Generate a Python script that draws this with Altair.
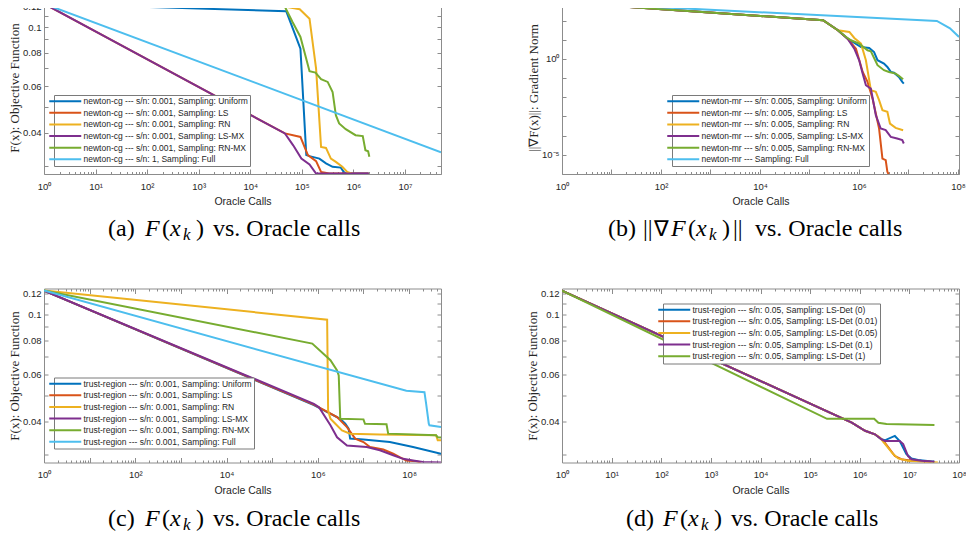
import altair as alt
import pandas as pd

BLUE, RED, YELLOW, PURPLE, GREEN, CYAN = "#0072BD", "#D95319", "#EDB120", "#7E2F8E", "#77AC30", "#4DBEEE"
SANS, SERIF = "Liberation Sans", "Liberation Serif"
TXT, FRAME = "#262626", "#8c8c8c"

# ---------------- panel (a): newton-cg, F(x) ----------------
a_labels = [
    "newton-cg --- s/n: 0.001, Sampling: Uniform",
    "newton-cg --- s/n: 0.001, Sampling: LS",
    "newton-cg --- s/n: 0.001, Sampling: RN",
    "newton-cg --- s/n: 0.001, Sampling: LS-MX",
    "newton-cg --- s/n: 0.001, Sampling: RN-MX",
    "newton-cg --- s/n: 1, Sampling: Full",
]
a_uni_x = [1, 5.0e4, 9.4e4, 1.22e5, 1.41e5, 2.19e5, 2.94e5, 3.95e5, 5.7e5, 6.6e5, 7.6e5, 1.98e6]
a_uni_y = [0.1225, 0.1147, 0.0830, 0.0330, 0.0327, 0.0320, 0.0307, 0.0298, 0.0296, 0.0284, 0.0281, 0.0281]
a_ls_x = [1, 4.7e4, 9.4e4, 1.31e5, 1.89e5, 2.36e5, 3.4e5, 1.98e6]
a_ls_y = [0.1225, 0.0398, 0.0386, 0.0330, 0.0313, 0.0285, 0.0281, 0.0281]
a_rn_x = [1, 4.9e4, 9.1e4, 1.41e5, 1.89e5, 2.36e5, 2.94e5, 3.66e5, 4.57e5, 6.1e5, 7.6e5, 9.5e5]
a_rn_y = [0.1225, 0.1193, 0.1167, 0.1076, 0.0698, 0.0354, 0.0351, 0.0320, 0.0311, 0.0298, 0.0285, 0.0281]
a_lsmx_x = [1, 4.7e4, 6.8e4, 9.8e4, 1.41e5, 1.89e5, 1.98e6]
a_lsmx_y = [0.1225, 0.0398, 0.0359, 0.0320, 0.0304, 0.0281, 0.0281]
a_rnmx_x = [1, 4.69e4, 6.6e4, 9.4e4, 1.41e5, 1.84e5, 2.36e5, 3.17e5, 3.95e5, 4.57e5, 5.29e5,
            7.1e5, 1.10e6, 1.52e6, 1.71e6, 1.93e6, 2.04e6]
a_rnmx_y = [0.1225, 0.1193, 0.1045, 0.0918, 0.0682, 0.0674, 0.0637, 0.0622, 0.0570, 0.0466, 0.0434,
            0.0413, 0.0392, 0.0389, 0.0344, 0.0341, 0.0325]
a_full_x = [1, 5e7]
a_full_y = [0.1225, 0.0338]

# ---------------- panel (b): newton-mr, gradient norm ----------------
b_labels = [
    "newton-mr --- s/n: 0.005, Sampling: Uniform",
    "newton-mr --- s/n: 0.005, Sampling: LS",
    "newton-mr --- s/n: 0.005, Sampling: RN",
    "newton-mr --- s/n: 0.005, Sampling: LS-MX",
    "newton-mr --- s/n: 0.005, Sampling: RN-MX",
    "newton-mr --- Sampling: Full",
]
b_uni_x = [1, 1.88e5, 3.75e5, 5.9e5, 1.1e6, 1.61e6, 2.02e6, 2.37e6, 3.2e6, 3.75e6, 4.4e6, 5.1e6, 6.4e6, 7.5e6, 8.05e6]
b_uni_y = [890, 104, 31.3, 11.4, 4.2, 3.74, 2.3, 0.855, 0.569, 0.383, 0.21, 0.193, 0.115, 0.0634, 0.0517]
b_ls_x = [1, 1.88e5, 3.75e5, 5.9e5, 8.7e5, 1.19e6, 1.49e6, 1.88e6, 2.19e6, 2.55e6, 2.98e6, 3.47e6, 3.75e6, 4.04e6]
b_ls_y = [890, 104, 31.3, 11.4, 3.44, 0.21, 0.0634, 8.55e-3, 1.42e-3, 2.34e-4, 6.4e-6, 5.3e-6, 1.3e-6, 8.8e-7]
b_rn_x = [1, 1.88e5, 3.75e5, 6.4e5, 8.05e5, 1.1e6, 1.38e6, 1.61e6, 1.74e6, 2.19e6, 2.55e6, 2.98e6, 3.75e6,
          4.23e6, 5.5e6, 7.8e6]
b_rn_y = [890, 104, 31.3, 25.5, 12.4, 6.3, 0.855, 0.0778, 0.0234, 0.0191, 7.06e-3, 2.13e-3, 1.74e-3,
          4.27e-4, 2.55e-4, 1.93e-4]
b_lsmx_x = [1, 1.88e5, 3.75e5, 5.9e5, 8.05e5, 1.01e6, 1.19e6, 1.38e6, 1.74e6, 2.19e6, 2.75e6, 3.47e6,
            4.4e6, 5.9e6, 7.5e6, 8.05e6]
b_lsmx_y = [890, 104, 31.3, 11.4, 3.44, 0.855, 0.171, 0.0427, 0.0284, 1.17e-3, 2.34e-4, 1.93e-4,
            8.66e-5, 7.06e-5, 5.83e-5, 3.88e-5]
b_rnmx_x = [1, 1.88e5, 3.75e5, 5.5e5, 6.9e5, 1.01e6, 1.49e6, 1.74e6, 2.37e6, 3.2e6, 4.04e6, 5.5e6, 6.4e6, 7.8e6]
b_rnmx_y = [890, 104, 31.3, 14, 9.4, 6.3, 2.84, 2.52, 0.47, 0.258, 0.21, 0.171, 0.13, 0.0877]
b_full_x = [1, 3.75e7, 6.9e7, 1.05e8]
b_full_y = [890, 95.3, 39.8, 14]

# ---------------- panel (c): trust-region, F(x) ----------------
c_labels = [
    "trust-region --- s/n: 0.001, Sampling: Uniform",
    "trust-region --- s/n: 0.001, Sampling: LS",
    "trust-region --- s/n: 0.001, Sampling: RN",
    "trust-region --- s/n: 0.001, Sampling: LS-MX",
    "trust-region --- s/n: 0.001, Sampling: RN-MX",
    "trust-region --- s/n: 0.001, Sampling: Full",
]
c_uni_x = [1, 8.2e5, 3.1e6, 3.99e6, 4.73e6, 5.1e6, 1e7, 3.78e7, 1.22e8, 5e8]
c_uni_y = [0.123, 0.0460, 0.0409, 0.0392, 0.0376, 0.0345, 0.0342, 0.0335, 0.0321, 0.0303]
c_ls_x = [1, 8.2e5, 2.64e6, 4.35e6, 6.6e6, 1e7, 1.39e7, 2.72e7, 4.48e7, 6.2e7, 8.7e7, 1.43e8, 1.8e8]
c_ls_y = [0.123, 0.0462, 0.0415, 0.0381, 0.0345, 0.0335, 0.0321, 0.0314, 0.0303, 0.0294, 0.0286, 0.0284, 0.0281]
c_rn_x = [1, 1.6e6, 1.68e6, 1.89e6, 2.42e6, 3.38e6, 5.1e6, 2.29e7, 3.9e8, 4.24e8, 5e8]
c_rn_y = [0.123, 0.0958, 0.0440, 0.0409, 0.0392, 0.0370, 0.0360, 0.0357, 0.0355, 0.0340, 0.0340]
c_lsmx_x = [1, 8.2e5, 1.06e6, 1.89e6, 2.64e6, 4.35e6, 1.18e7, 2.29e7, 4.48e7, 7.4e7, 1.22e8, 2.0e8, 5e8]
c_lsmx_y = [0.123, 0.0465, 0.0452, 0.0387, 0.0349, 0.0325, 0.0321, 0.0312, 0.0299, 0.0290, 0.0286, 0.0282, 0.0281]
c_rnmx_x = [1, 7.56e5, 1.89e6, 2.64e6, 2.87e6, 3.1e6, 1e7, 1.08e7, 3.2e7, 3.48e7, 3.9e8, 4.24e8, 5e8]
c_rnmx_y = [0.123, 0.078, 0.0676, 0.062, 0.0594, 0.0409, 0.0407, 0.0392, 0.039, 0.0360, 0.0355, 0.0349, 0.0348]
c_full_x = [1, 8.7e7, 2.17e8, 2.36e8, 2.7e8, 2.79e8, 5e8]
c_full_y = [0.123, 0.052, 0.0514, 0.0466, 0.0392, 0.0387, 0.0381]

# ---------------- panel (d): trust-region LS-Det ----------------
d_labels = [
    "trust-region --- s/n: 0.05, Sampling: LS-Det (0)",
    "trust-region --- s/n: 0.05, Sampling: LS-Det (0.01)",
    "trust-region --- s/n: 0.05, Sampling: LS-Det (0.05)",
    "trust-region --- s/n: 0.05, Sampling: LS-Det (0.1)",
    "trust-region --- s/n: 0.05, Sampling: LS-Det (1)",
]
d_0_x = [1, 6.9e5, 1.28e6, 2.02e6, 2.75e6, 3.2e6, 5.1e6, 6.4e6, 8.7e6, 1.1e7, 1.49e7, 3.2e7]
d_0_y = [0.123, 0.0396, 0.0369, 0.0358, 0.0343, 0.0340, 0.0353, 0.0338, 0.0302, 0.0291, 0.0287, 0.0283]
d_001_x = [1, 6.9e5, 1.28e6, 2.02e6, 2.75e6, 3.2e6, 5.1e6, 6.9e6, 1.1e7, 2.75e7]
d_001_y = [0.123, 0.0396, 0.0369, 0.0358, 0.0343, 0.0333, 0.0297, 0.0289, 0.0285, 0.0283]
d_005_x = [1, 6.9e5, 1.28e6, 2.02e6, 2.55e6, 3.47e6, 4.72e6, 5.94e6, 9.4e6, 3.75e7]
d_005_y = [0.123, 0.0396, 0.0369, 0.0358, 0.0348, 0.0324, 0.0302, 0.0291, 0.0285, 0.0281]
d_01_x = [1, 6.9e5, 1.28e6, 2.02e6, 2.75e6, 3.2e6, 6.4e6, 7.5e6, 9.4e6, 1.1e7, 1.74e7, 3.2e7]
d_01_y = [0.123, 0.0396, 0.0369, 0.0358, 0.0343, 0.0338, 0.0338, 0.0329, 0.0297, 0.0289, 0.0285, 0.0283]
d_1_x = [1, 2.19e5, 1.95e6, 2.37e6, 3.47e6, 3.2e7]
d_1_y = [0.123, 0.0409, 0.0409, 0.0395, 0.0391, 0.0388]

# ---------------- tick values / labels ----------------
SUP = "['\u2070','\u00b9','\u00b2','\u00b3','\u2074','\u2075','\u2076','\u2077','\u2078']"
EXP = "round(log(datum.value)/LN10)"
label_all = "'10' + " + SUP + "[" + EXP + "]"
label_even = "(" + EXP + " % 2 == 0) ? '10' + " + SUP + "[" + EXP + "] : ''"
label_grad = "datum.value == 1 ? '10\u2070' : (datum.value == 1e-5 ? '10\u207b\u2075' : '')"

def decades(lo, hi):
    return [10.0 ** k for k in range(lo, hi + 1)]

def minors(lo, hi, vmax):
    return [m * 10.0 ** k for k in range(lo, hi + 1) for m in range(2, 10) if m * 10.0 ** k <= vmax]

F_major = [0.04, 0.06, 0.08, 0.1, 0.12]
F_minor = [0.03, 0.05, 0.07, 0.09, 0.11]


def text_piece(txt, x, y, size=24, style="normal"):
    return alt.Chart(pd.DataFrame({"d": [0]})).mark_text(
        text=txt, align="left", baseline="alphabetic", font=SERIF, fontSize=size,
        fontStyle=style, color="black"
    ).encode(x=alt.value(x), y=alt.value(y))


def caption(pieces, y):
    return [text_piece(t, x, y + dy, s, st) for (t, x, st, s, dy) in pieces]


def build_panel(names, calls, vals, colors, xdom, ydom, xmaj, xmin, ymaj, ymin, xlab, ylab_kw,
                ytitle, legend_xy, w, h, cap):
    recs = []
    for n, cx, cy in zip(names, calls, vals):
        for i, (p, q) in enumerate(zip(cx, cy)):
            recs.append({"series": n, "calls": p, "value": q, "i": i})
    df = pd.DataFrame(recs)
    xs = alt.Scale(type="log", domain=xdom, nice=False)
    ys = alt.Scale(type="log", domain=ydom, nice=False)
    base = alt.Chart(df)
    lines = base.mark_line(clip=True, strokeWidth=2).encode(
        x=alt.X("calls:Q", scale=xs, axis=alt.Axis(
            orient="bottom", values=xmaj, ticks=False, domain=False, grid=False,
            labelExpr=xlab, labelFlush=False, labelOverlap=False, labelPadding=7,
            labelFont=SANS, labelFontSize=9.5, labelColor=TXT,
            title="Oracle Calls", titleFont=SANS, titleFontSize=10.5, titleFontWeight="normal",
            titleColor=TXT, titlePadding=6)),
        y=alt.Y("value:Q", scale=ys, axis=alt.Axis(
            orient="left", values=ymaj, ticks=False, domain=False, grid=False,
            labelFlush=False, labelOverlap=False, labelPadding=3,
            labelFont=SANS, labelFontSize=9.5, labelColor=TXT,
            title=ytitle, titleFont=SERIF, titleFontSize=13, titleFontWeight="normal",
            titleColor=TXT, titlePadding=1, **ylab_kw)),
        color=alt.Color("series:N", scale=alt.Scale(domain=names, range=colors),
                        legend=alt.Legend(
                            orient="none", legendX=legend_xy[0], legendY=legend_xy[1], title=None,
                            symbolType="M-6.4,0H6.4", symbolSize=25, symbolStrokeWidth=2,
                            symbolOffset=5, labelOffset=14,
                            labelFont=SANS, labelFontSize=8.5, labelColor=TXT, labelLimit=400,
                            rowPadding=2.6, padding=2, strokeColor="#7a7a7a", fillColor="white")),
        order=alt.Order("i:Q"),
    )

    # inward ticks: an axis of the opposite orientation moved onto this edge
    def tick_axis(ch, orient, v, size, off):
        ax = alt.Axis(orient=orient, values=v, labels=False, domain=False, grid=False,
                      tickSize=size, tickColor=FRAME, tickWidth=1, title=None, offset=off)
        if ch == "x":
            enc = dict(x=alt.X("calls:Q", scale=xs, axis=ax), y=alt.Y("value:Q", scale=ys, axis=None))
        else:
            enc = dict(x=alt.X("calls:Q", scale=xs, axis=None), y=alt.Y("value:Q", scale=ys, axis=ax))
        return base.mark_point(opacity=0).encode(**enc)

    layers = [lines,
              tick_axis("x", "top", xmaj, 5, -h), tick_axis("x", "top", xmin, 2.5, -h),
              tick_axis("x", "bottom", xmaj, 5, -h), tick_axis("x", "bottom", xmin, 2.5, -h),
              tick_axis("y", "right", ymaj, 4, -w), tick_axis("y", "left", ymaj, 4, -w)]
    if ymin:
        layers += [tick_axis("y", "right", ymin, 4, -w), tick_axis("y", "left", ymin, 4, -w)]
    layers += cap
    return alt.layer(*layers).resolve_axis(x="independent", y="independent").properties(
        width=w, height=h)


C6 = [BLUE, RED, YELLOW, PURPLE, GREEN, CYAN]
C5 = [BLUE, RED, YELLOW, PURPLE, GREEN]

PIECES_F = [("F", 101, "italic", 24, 0), ("(", 118, "normal", 24, 0), ("x", 126, "italic", 24, 0),
            ("k", 139, "italic", 17, 4), (")", 152, "normal", 24, 0), ("vs. Oracle calls", 169, "normal", 24, 0)]
cap_a = caption([("(a)", 64, "normal", 24, 0)] + PIECES_F, 235)
cap_b = caption([("(b)", 46, "normal", 24, 0), ("||", 81, "normal", 24, 0), ("\u2207", 92, "normal", 22, 0),
                 ("F", 109, "italic", 24, 0), ("(", 126, "normal", 24, 0), ("x", 134, "italic", 24, 0),
                 ("k", 147, "italic", 17, 4), (")", 160, "normal", 24, 0), ("||", 171, "normal", 24, 0),
                 ("vs. Oracle calls", 193, "normal", 24, 0)], 235)
cap_c = caption([("(c)", 64, "normal", 24, 0)] + PIECES_F, 237)
cap_d = caption([("(d)", 64, "normal", 24, 0)] + PIECES_F, 237)

F_title = "F(x): Objective Function"
G_title = "||\u2207F(x)||: Gradient Norm"

W = 397
pa = build_panel(a_labels,
                 [a_uni_x, a_ls_x, a_rn_x, a_lsmx_x, a_rnmx_x, a_full_x],
                 [a_uni_y, a_ls_y, a_rn_y, a_lsmx_y, a_rnmx_y, a_full_y],
                 C6, [1, 5e7], [0.028, 0.1254], decades(0, 7), minors(0, 7, 5e7),
                 F_major, F_minor, label_all, {"format": "~g"}, F_title, (10, 94), W, 173, cap_a)
pb = build_panel(b_labels,
                 [b_uni_x, b_ls_x, b_rn_x, b_lsmx_x, b_rnmx_x, b_full_x],
                 [b_uni_y, b_ls_y, b_rn_y, b_lsmx_y, b_rnmx_y, b_full_y],
                 C6, [1, 1.05e8], [1e-6, 1.05e3], decades(0, 8), minors(0, 8, 1.05e8),
                 decades(-6, 3), [], label_even, {"labelExpr": label_grad}, G_title, (110, 94), W, 173, cap_b)
pc = build_panel(c_labels,
                 [c_uni_x, c_ls_x, c_rn_x, c_lsmx_x, c_rnmx_x, c_full_x],
                 [c_uni_y, c_ls_y, c_rn_y, c_lsmx_y, c_rnmx_y, c_full_y],
                 C6, [1, 5e8], [0.0281, 0.1252], decades(0, 8), minors(0, 8, 5e8),
                 F_major, F_minor, label_even, {"format": "~g"}, F_title, (10, 89), W, 174, cap_c)
pd_ = build_panel(d_labels,
                  [d_0_x, d_001_x, d_005_x, d_01_x, d_1_x],
                  [d_0_y, d_001_y, d_005_y, d_01_y, d_1_y],
                  C5, [1, 1e8], [0.0281, 0.1252], decades(0, 8), minors(0, 7, 1e8),
                  F_major, F_minor, label_all, {"format": "~g"}, F_title, (101, 15), W, 174, cap_d)

chart = alt.concat(
    pa, pb, pc, pd_, columns=2, spacing={"row": 114.5, "column": 121}, bounds="flush",
    padding={"top": -13, "left": 0, "right": -1.5, "bottom": 0},
).resolve_scale(color="independent").configure_view(stroke=FRAME, strokeWidth=1)

chart.save("out.html", embed_options={"renderer": "svg", "actions": False})
